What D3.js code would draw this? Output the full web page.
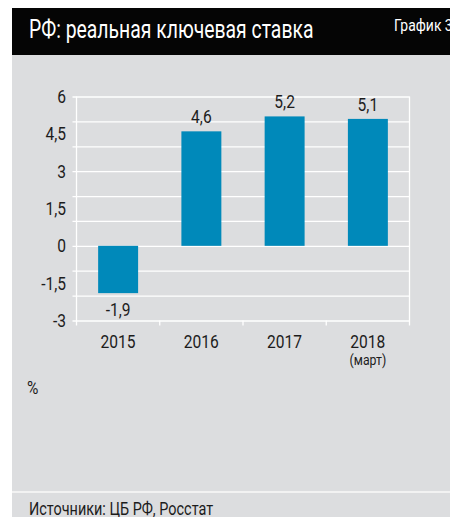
<!DOCTYPE html>
<html>
<head>
<meta charset="utf-8">
<script src="https://cdn.jsdelivr.net/npm/d3@7"></script>
<style>
  html, body { margin: 0; padding: 0; background: #fff; }
  svg { display: block; }
  text { font-family: Roboto, "Noto Sans", sans-serif; }
</style>
</head>
<body>
<div id="viz"></div>
<script>
const years = ['2015', '2016', '2017', '2018'];
const subLabels = ['', '', '', '(март)'];
const values = [-1.9, 4.6, 5.2, 5.1];
const gridValues = [-3, -2, -1, 0, 1, 2, 3, 4, 5, 6];
const tickLabels = [-3, -1.5, 0, 1.5, 3, 4.5, 6];

const W = 450, H = 517;
const fmt = v => String(v).replace('.', ',');
const barColor = '#0089ba';
const bg = '#dcdddf';
const ink = '#1c1c1c';

const svg = d3.select('#viz').append('svg')
  .attr('width', W).attr('height', H);

// condensed text helper (no condensed face installed, so squeeze it)
function label(parent, px, py, str, size, anchor, color, sq) {
  return parent.append('text')
    .attr('transform', `translate(${px},${py}) scale(${sq || 0.82},1)`)
    .attr('text-anchor', anchor || 'start')
    .attr('fill', color || ink)
    .style('font-size', size + 'px')
    .text(str);
}

// panel + header
svg.append('rect').attr('x', 12).attr('y', 55).attr('width', W - 12).attr('height', H - 55).attr('fill', bg);
svg.append('rect').attr('x', 12).attr('y', 8).attr('width', W - 12).attr('height', 47).attr('fill', '#050505');
svg.append('rect').attr('x', 12).attr('y', 491).attr('width', W - 12).attr('height', 2).attr('fill', '#f2f2f2');

label(svg, 29, 38, 'РФ: реальная ключевая ставка', 25, 'start', '#fff', 0.775);
label(svg, 394, 31, 'График 3', 17, 'start', '#fff', 0.82);

// scales
const x = d3.scaleBand().domain(years).range([76.5, 409.5]).paddingInner(0.52).paddingOuter(0.26);
const y = d3.scaleLinear().domain([-3, 6]).range([320.5, 96.5]);

// gridlines
svg.append('g')
  .attr('transform', 'translate(72.5,0)')
  .call(d3.axisLeft(y).tickValues(gridValues).tickSize(-337).tickFormat(''))
  .call(g => g.select('.domain').remove())
  .call(g => g.selectAll('line').attr('stroke', '#fff').attr('stroke-width', 1.3));

// vertical frame lines
[76.5, 409.5].forEach(px => {
  svg.append('line')
    .attr('x1', px).attr('x2', px)
    .attr('y1', 96.5).attr('y2', 325.5)
    .attr('stroke', '#fff').attr('stroke-width', 1.3);
});

// x axis ticks at band boundaries
const step = x.step();
const bounds = years.map(d => x(d) - (step - x.bandwidth()) / 2);
svg.append('g')
  .selectAll('line')
  .data(bounds.slice(1))
  .join('line')
  .attr('x1', d => d).attr('x2', d => d)
  .attr('y1', 320.5).attr('y2', 325.5)
  .attr('stroke', '#fff').attr('stroke-width', 1.3);

// y labels
const yl = svg.append('g');
tickLabels.forEach(v => {
  label(yl, 66, y(v) + 6.5, fmt(v), 19, 'end');
});

// bars
svg.append('g')
  .selectAll('rect')
  .data(values)
  .join('rect')
  .attr('x', (d, i) => x(years[i]))
  .attr('width', x.bandwidth())
  .attr('y', d => y(Math.max(0, d)))
  .attr('height', d => Math.abs(y(d) - y(0)))
  .attr('fill', barColor);

// value labels
const vl = svg.append('g');
values.forEach((d, i) => {
  const cx = x(years[i]) + x.bandwidth() / 2;
  label(vl, cx, d >= 0 ? y(d) - 8 : y(d) + 23, fmt(d), 19, 'middle');
});

// category labels
const cats = svg.append('g');
years.forEach((yr, i) => {
  const cx = x(yr) + x.bandwidth() / 2;
  label(cats, cx, 348, yr, 19, 'middle');
  if (subLabels[i]) label(cats, cx, 365, subLabels[i], 15, 'middle');
});

label(svg, 27, 394, '%', 19, 'start');
label(svg, 29, 515, 'Источники: ЦБ РФ, Росстат', 19, 'start', ink, 0.76);
</script>
</body>
</html>
